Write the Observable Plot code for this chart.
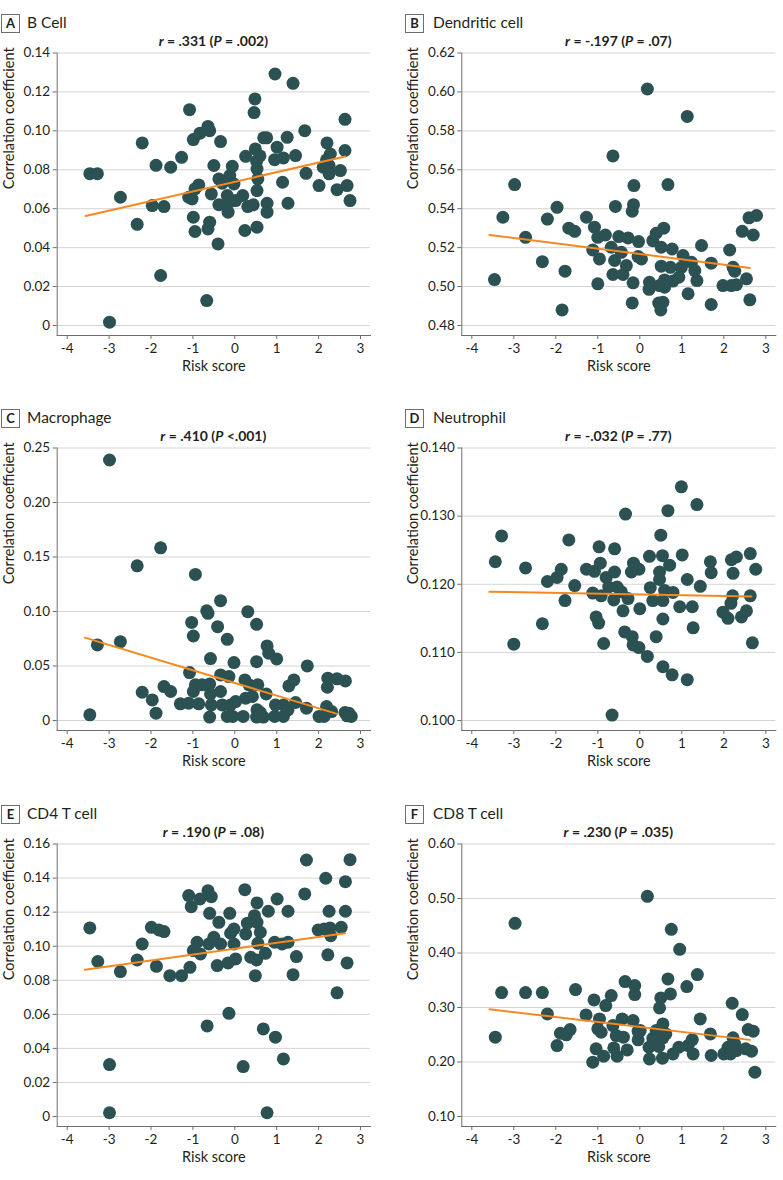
<!DOCTYPE html>
<html>
<head>
<meta charset="utf-8">
<script src="https://cdn.jsdelivr.net/npm/d3@7"></script>
<script src="https://cdn.jsdelivr.net/npm/@observablehq/plot@0.6"></script>
<style>
  html, body { margin: 0; padding: 0; background: #fff; }
  #fig { position: relative; width: 783px; height: 1180px; font-family: Lato, "Open Sans", sans-serif; color: #231f20; }
  .panel { position: absolute; width: 390px; height: 390px; }
  .panel svg { position: absolute; left: 0; top: 0; }
  .tag { position: absolute; top: 14px; width: 17px; height: 17px; border: 1px solid #6d6e71; font-weight: 700; font-size: 13px; line-height: 17px; text-align: center; }
  .name { position: absolute; top: 13px; font-size: 15.5px; line-height: 19px; }
  .title { position: absolute; top: 32px; font-size: 14px; font-weight: 700; text-align: center; line-height: 18px; }
</style>
</head>
<body>
<div id="fig"></div>
<script>
// ---- shared tick labels ----
const xTicks = [-4, -3, -2, -1, 0, 1, 2, 3];
const xLabel = "Risk score";
const yLabel = "Correlation coefficient";

// ---- panel names & stats ----
const panelTags = ["A", "B", "C", "D", "E", "F"];
const panelNames = ["B Cell", "Dendritic cell", "Macrophage", "Neutrophil", "CD4 T cell", "CD8 T cell"];
const panelR = [".331", "-.197", ".410", "-.032", ".190", ".230"];
const panelP = ["= .002", "= .07", "<.001", "= .77", "= .08", "= .035"];

// ---- y tick values ----
const yTicksA = [0, 0.02, 0.04, 0.06, 0.08, 0.10, 0.12, 0.14];
const yTicksB = [0.48, 0.50, 0.52, 0.54, 0.56, 0.58, 0.60, 0.62];
const yTicksC = [0, 0.05, 0.10, 0.15, 0.20, 0.25];
const yTicksD = [0.100, 0.110, 0.120, 0.130, 0.140];
const yTicksE = [0, 0.02, 0.04, 0.06, 0.08, 0.10, 0.12, 0.14, 0.16];
const yTicksF = [0.10, 0.20, 0.30, 0.40, 0.50, 0.60];

// ---- points [risk score, correlation coefficient] ----
const bCell = [[-3.46,0.078],[-3.28,0.078],[-2.73,0.0659],[-2.99,0.0017],[-2.33,0.052],[-2.21,0.0938],[-1.97,0.0616],[-1.88,0.0823],[-1.69,0.0611],[-1.77,0.0257],[-1.53,0.0813],[-1.27,0.0864],[-1.08,0.1109],[-0.99,0.0955],[-0.83,0.0988],[-0.64,0.1023],[-0.60,0.1001],[-1.10,0.0659],[-1.02,0.065],[-0.95,0.0702],[-0.86,0.0722],[-0.99,0.0556],[-0.95,0.0483],[-0.60,0.0531],[-0.64,0.0496],[-0.67,0.0128],[-0.56,0.0676],[-0.50,0.0822],[-0.34,0.0945],[-0.38,0.0753],[-0.30,0.0731],[-0.38,0.0621],[-0.40,0.0419],[-0.16,0.0582],[-0.18,0.0668],[-0.12,0.077],[-0.06,0.0818],[-0.02,0.0727],[0.02,0.0642],[-0.14,0.0633],[0.19,0.0668],[0.26,0.0869],[0.31,0.0611],[0.24,0.0488],[0.44,0.062],[0.48,0.1164],[0.46,0.1094],[0.49,0.0907],[0.52,0.0844],[0.53,0.0804],[0.55,0.0753],[0.53,0.0693],[0.53,0.0505],[0.60,0.0871],[0.69,0.0964],[0.76,0.0964],[0.77,0.0628],[0.77,0.0582],[0.96,0.1292],[1.01,0.0916],[0.95,0.0852],[1.16,0.0861],[1.14,0.0736],[1.25,0.0967],[1.27,0.0628],[1.39,0.1244],[1.45,0.0873],[1.67,0.1001],[1.70,0.0782],[2.01,0.0719],[2.11,0.0813],[2.20,0.0938],[2.19,0.0851],[2.25,0.0822],[2.28,0.0881],[2.25,0.0779],[2.44,0.0698],[2.52,0.0796],[2.63,0.1059],[2.63,0.0899],[2.68,0.0719],[2.75,0.0642]];
const dendritic = [[-3.46,0.5036],[-3.26,0.5356],[-2.98,0.5524],[-2.72,0.5253],[-2.32,0.5128],[-2.20,0.5347],[-1.97,0.5407],[-1.85,0.4880],[-1.78,0.5079],[-1.69,0.5300],[-1.55,0.5284],[-1.27,0.5356],[-1.08,0.5305],[-1.12,0.5188],[-1.00,0.5253],[-0.96,0.5142],[-1.00,0.5014],[-0.82,0.5265],[-0.64,0.5671],[-0.58,0.5412],[-0.68,0.5202],[-0.60,0.5134],[-0.64,0.5062],[-0.50,0.5257],[-0.44,0.5176],[-0.40,0.5062],[-0.32,0.5108],[-0.28,0.5250],[-0.16,0.5019],[-0.18,0.4916],[-0.18,0.5387],[-0.15,0.5421],[-0.14,0.5519],[-0.03,0.5231],[-0.04,0.5154],[0.04,0.5142],[0.18,0.6015],[0.23,0.5022],[0.22,0.4986],[0.31,0.5236],[0.39,0.5274],[0.47,0.5005],[0.45,0.4915],[0.50,0.4880],[0.55,0.4920],[0.57,0.5300],[0.51,0.5202],[0.51,0.5105],[0.59,0.5034],[0.59,0.4997],[0.67,0.5524],[0.77,0.5193],[0.73,0.5099],[0.79,0.5028],[0.93,0.5048],[0.99,0.5099],[1.03,0.5159],[1.13,0.5874],[1.15,0.4963],[1.23,0.5125],[1.31,0.5082],[1.36,0.5031],[1.47,0.5211],[1.70,0.5120],[1.70,0.4908],[1.98,0.5005],[2.14,0.5188],[2.18,0.5005],[2.22,0.5099],[2.26,0.5079],[2.30,0.5010],[2.44,0.5284],[2.54,0.5040],[2.60,0.5353],[2.62,0.4932],[2.70,0.5265],[2.78,0.5365]];
const macrophage = [[-3.46,0.0052],[-3.28,0.0693],[-2.99,0.2390],[-2.73,0.0723],[-2.33,0.1419],[-2.21,0.0259],[-1.97,0.0189],[-1.88,0.0067],[-1.77,0.1584],[-1.69,0.0311],[-1.53,0.0266],[-1.30,0.0153],[-1.08,0.0440],[-1.03,0.0900],[-0.99,0.0775],[-0.94,0.1340],[-1.10,0.0159],[-0.99,0.0266],[-0.94,0.0327],[-0.86,0.0153],[-0.78,0.0327],[-0.67,0.1007],[-0.64,0.0983],[-0.60,0.0336],[-0.58,0.0568],[-0.60,0.0031],[-0.58,0.0244],[-0.56,0.0143],[-0.41,0.0861],[-0.34,0.1099],[-0.34,0.0266],[-0.34,0.0418],[-0.30,0.0143],[-0.18,0.0745],[-0.14,0.0403],[-0.18,0.0037],[-0.10,0.0143],[-0.05,0.0037],[-0.02,0.0531],[0.02,0.0174],[0.20,0.0037],[0.24,0.0372],[0.26,0.0205],[0.31,0.0998],[0.34,0.0327],[0.42,0.0220],[0.52,0.0882],[0.52,0.0540],[0.55,0.0327],[0.53,0.0098],[0.52,0.0031],[0.61,0.0073],[0.68,0.0031],[0.75,0.0244],[0.77,0.0684],[0.81,0.0617],[1.00,0.0565],[0.97,0.0143],[0.95,0.0037],[1.16,0.0143],[1.16,0.0037],[1.27,0.0098],[1.29,0.0317],[1.41,0.0372],[1.45,0.0165],[1.71,0.0113],[1.73,0.0501],[2.01,0.0037],[2.13,0.0037],[2.21,0.0305],[2.22,0.0388],[2.19,0.0128],[2.31,0.0082],[2.44,0.0382],[2.64,0.0363],[2.63,0.0073],[2.68,0.0043],[2.78,0.0037],[2.72,0.0067]];
const neutrophil = [[-3.44,0.1233],[-3.29,0.1271],[-3.00,0.1112],[-2.72,0.1224],[-2.32,0.1142],[-2.20,0.1204],[-1.97,0.1210],[-1.87,0.1222],[-1.78,0.1176],[-1.69,0.1265],[-1.55,0.1198],[-1.27,0.1222],[-1.08,0.1219],[-1.12,0.1187],[-0.97,0.1255],[-0.94,0.1231],[-0.92,0.1183],[-1.04,0.1152],[-0.98,0.1143],[-0.86,0.1113],[-0.80,0.1210],[-0.74,0.1196],[-0.66,0.1008],[-0.60,0.1252],[-0.60,0.1218],[-0.62,0.1177],[-0.54,0.1196],[-0.44,0.1189],[-0.40,0.1161],[-0.36,0.1130],[-0.34,0.1303],[-0.28,0.1179],[-0.20,0.1218],[-0.15,0.1231],[-0.02,0.1222],[-0.18,0.1123],[-0.16,0.1111],[-0.02,0.1107],[0.00,0.1164],[0.18,0.1094],[0.23,0.1241],[0.25,0.1195],[0.31,0.1176],[0.39,0.1123],[0.50,0.1272],[0.54,0.1242],[0.47,0.1218],[0.47,0.1207],[0.55,0.1176],[0.59,0.1191],[0.55,0.1149],[0.55,0.1079],[0.67,0.1308],[0.71,0.1228],[0.79,0.1188],[0.77,0.1067],[0.95,0.1167],[0.99,0.1343],[1.01,0.1243],[1.13,0.1207],[1.13,0.1060],[1.25,0.1167],[1.27,0.1136],[1.36,0.1317],[1.44,0.1197],[1.68,0.1233],[1.70,0.1217],[1.98,0.1159],[2.10,0.1150],[2.18,0.1236],[2.30,0.1240],[2.22,0.1216],[2.21,0.1183],[2.17,0.1172],[2.42,0.1152],[2.54,0.1161],[2.63,0.1245],[2.63,0.1183],[2.76,0.1222],[2.68,0.1114]];
const cd4 = [[-3.46,0.1107],[-3.27,0.0910],[-2.99,0.0305],[-2.99,0.0022],[-2.73,0.0851],[-2.33,0.0919],[-2.21,0.1013],[-1.99,0.1111],[-1.87,0.0882],[-1.81,0.1095],[-1.69,0.1086],[-1.55,0.0827],[-1.27,0.0827],[-1.10,0.1297],[-1.04,0.1232],[-1.07,0.0876],[-0.99,0.0974],[-0.90,0.1023],[-0.83,0.1277],[-0.82,0.0954],[-0.66,0.0532],[-0.64,0.1326],[-0.56,0.1291],[-0.60,0.1193],[-0.62,0.1013],[-0.50,0.1052],[-0.42,0.0886],[-0.38,0.1140],[-0.34,0.1013],[-0.16,0.0902],[-0.14,0.0606],[-0.12,0.1193],[-0.10,0.1076],[-0.02,0.1101],[-0.02,0.1013],[0.02,0.0925],[0.20,0.0293],[0.24,0.1332],[0.26,0.1072],[0.30,0.1135],[0.38,0.0935],[0.47,0.1179],[0.53,0.1254],[0.53,0.1140],[0.49,0.0827],[0.52,0.0919],[0.55,0.1017],[0.61,0.1082],[0.68,0.0514],[0.73,0.0958],[0.77,0.0022],[0.80,0.1205],[0.97,0.0466],[0.95,0.1023],[1.01,0.1277],[1.13,0.1013],[1.16,0.0338],[1.27,0.1023],[1.27,0.1205],[1.39,0.0833],[1.47,0.0939],[1.67,0.1307],[1.71,0.1506],[1.99,0.1095],[2.13,0.1101],[2.17,0.1399],[2.22,0.0949],[2.25,0.1205],[2.27,0.1107],[2.29,0.1062],[2.44,0.0726],[2.54,0.1111],[2.64,0.1379],[2.64,0.1205],[2.68,0.0902],[2.75,0.1508]];
const cd8 = [[-3.44,0.2455],[-3.29,0.3274],[-2.97,0.4545],[-2.72,0.3274],[-2.32,0.3274],[-2.20,0.2883],[-1.97,0.2302],[-1.89,0.2528],[-1.75,0.2498],[-1.66,0.2595],[-1.53,0.3329],[-1.28,0.2864],[-1.12,0.1996],[-1.09,0.3139],[-1.04,0.2241],[-1.00,0.2608],[-0.96,0.2791],[-0.92,0.2546],[-0.86,0.2106],[-0.81,0.3035],[-0.68,0.3219],[-0.64,0.2669],[-0.62,0.2259],[-0.56,0.2485],[-0.54,0.2106],[-0.42,0.2791],[-0.39,0.2455],[-0.35,0.3476],[-0.30,0.2222],[-0.16,0.2760],[-0.12,0.3402],[-0.12,0.3237],[-0.04,0.2565],[-0.04,0.2406],[0.01,0.2577],[0.18,0.5040],[0.22,0.2271],[0.23,0.2057],[0.31,0.2436],[0.39,0.2577],[0.45,0.2284],[0.47,0.2993],[0.50,0.3176],[0.55,0.2699],[0.55,0.2443],[0.54,0.2070],[0.62,0.2516],[0.67,0.3524],[0.73,0.3249],[0.75,0.4435],[0.79,0.2149],[0.93,0.2271],[0.95,0.4068],[1.12,0.3384],[1.15,0.2302],[1.25,0.2412],[1.27,0.2149],[1.37,0.3604],[1.44,0.2791],[1.68,0.2516],[1.70,0.2119],[2.00,0.2149],[2.10,0.2271],[2.16,0.2149],[2.20,0.3078],[2.22,0.2443],[2.26,0.2333],[2.30,0.2210],[2.44,0.2870],[2.52,0.2241],[2.58,0.2595],[2.66,0.2198],[2.70,0.2565],[2.74,0.1813]];

// ---- fitted regression lines, endpoints ----
const fitBCell = [[-3.56,0.0563],[2.63,0.0868]];
const fitDendritic = [[-3.58,0.5265],[2.62,0.5096]];
const fitMacrophage = [[-3.58,0.0760],[2.44,0.0061]];
const fitNeutrophil = [[-3.58,0.1189],[2.66,0.1182]];
const fitCd4 = [[-3.58,0.0861],[2.63,0.1076]];
const fitCd8 = [[-3.58,0.2968],[2.62,0.2406]];

const fmt2 = d => d === 0 ? "0" : d.toFixed(2);
const fmt3 = d => d.toFixed(3);

const panels = [
  {pts: bCell, fit: fitBCell, ticks: yTicksA, fmt: fmt2},
  {pts: dendritic, fit: fitDendritic, ticks: yTicksB, fmt: fmt2},
  {pts: macrophage, fit: fitMacrophage, ticks: yTicksC, fmt: fmt2},
  {pts: neutrophil, fit: fitNeutrophil, ticks: yTicksD, fmt: fmt3},
  {pts: cd4, fit: fitCd4, ticks: yTicksE, fmt: fmt2},
  {pts: cd8, fit: fitCd8, ticks: yTicksF, fmt: fmt2}
];

const rowTops = [0, 395, 791];
const colLefts = [0, 393];
const colMarginLeft = [56.7, 68.3];
const colMarginRight = [20, 7.7];
const colTagLeft = [1, 12];
const colNameLeft = [27, 40];
const fig = document.getElementById("fig");

panels.forEach((p, i) => {
  const col = i % 2, row = Math.floor(i / 2);
  const ml = colMarginLeft[col], mr = colMarginRight[col];
  const div = document.createElement("div");
  div.className = "panel";
  div.style.left = colLefts[col] + "px";
  div.style.top = rowTops[row] + "px";

  const chart = Plot.plot({
    width: 390,
    height: 390,
    marginLeft: ml,
    marginRight: mr,
    marginTop: 52.5,
    marginBottom: 55,
    insetLeft: 10,
    insetRight: 10,
    insetBottom: 10,
    x: {domain: [xTicks[0], xTicks[xTicks.length - 1]]},
    y: {domain: [p.ticks[0], p.ticks[p.ticks.length - 1]]},
    style: {fontFamily: "Lato, 'Open Sans', sans-serif", fontSize: "13.5px", color: "#231f20", background: "white", overflow: "visible"},
    marks: [
      Plot.gridY(p.ticks, {stroke: "#d4d4d4", strokeOpacity: 1, strokeWidth: 1}),
      Plot.frame({anchor: "left", stroke: "#6d6e71"}),
      Plot.frame({anchor: "bottom", stroke: "#6d6e71"}),
      Plot.axisY(p.ticks, {tickSize: 4, tickPadding: 3, tickFormat: p.fmt, label: null, stroke: "#6d6e71"}),
      Plot.axisX(xTicks, {tickSize: 4, tickPadding: 4, tickFormat: d => String(d), label: null, stroke: "#6d6e71"}),
      Plot.dot(p.pts, {x: d => d[0], y: d => d[1], r: 6.5, fill: "#2b5152", stroke: "none"}),
      Plot.line(p.fit, {x: d => d[0], y: d => d[1], stroke: "#f5891f", strokeWidth: 2}),
      Plot.text([xLabel], {text: d => d, frameAnchor: "bottom", dy: 35, fontSize: 14.5}),
      Plot.text([yLabel], {text: d => d, frameAnchor: "left", rotate: -90, dx: -48, dy: -5, fontSize: 14.5})
    ]
  });
  div.appendChild(chart);

  const tag = document.createElement("div");
  tag.className = "tag";
  tag.style.left = colTagLeft[col] + "px";
  tag.textContent = panelTags[i];
  div.appendChild(tag);

  const name = document.createElement("div");
  name.className = "name";
  name.style.left = colNameLeft[col] + "px";
  name.textContent = panelNames[i];
  div.appendChild(name);

  const title = document.createElement("div");
  title.className = "title";
  title.style.left = ml + "px";
  title.style.width = (390 - ml - mr) + "px";
  title.innerHTML = "<i>r</i> = " + panelR[i] + " (<i>P</i> " + panelP[i] + ")";
  div.appendChild(title);

  fig.appendChild(div);
});
</script>
</body>
</html>
